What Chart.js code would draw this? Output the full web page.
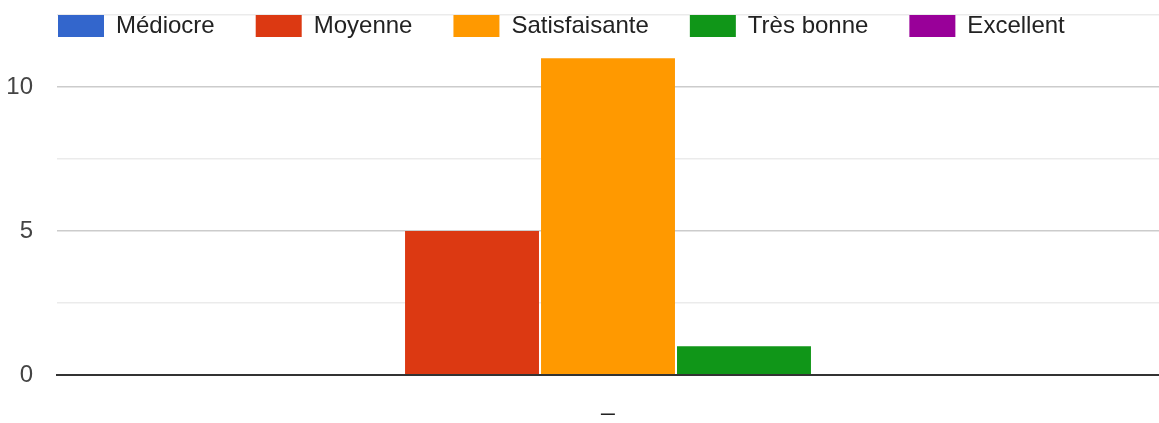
<!DOCTYPE html>
<html>
<head>
<meta charset="utf-8">
<script src="https://cdn.jsdelivr.net/npm/chart.js@4"></script>
<style>
  html, body { margin: 0; padding: 0; background: #ffffff; }
  #wrap { width: 1159px; height: 423px; }
</style>
</head>
<body>
<div id="wrap"><canvas id="c" width="1159" height="423"></canvas></div>
<script>
// ---- data ----
const categories = ['_'];
const seriesNames = ['Médiocre', 'Moyenne', 'Satisfaisante', 'Très bonne', 'Excellent'];
const mediocre = [0];
const moyenne = [5];
const satisfaisante = [11];
const tresBonne = [1];
const excellent = [0];
const yMax = 12.5;
const yStep = 2.5;
const yLabelStep = 5;

// ---- styles ----
const seriesColors = ['#3366cc', '#dc3912', '#ff9900', '#109618', '#990099'];
const FONT = "'Liberation Sans', Arial, sans-serif";
const LEGEND_X = 58, LEGEND_Y = 14;

const seriesValues = [mediocre, moyenne, satisfaisante, tresBonne, excellent];
const datasets = seriesNames.map((name, i) => ({
  label: name,
  data: seriesValues[i],
  backgroundColor: seriesColors[i],
  borderWidth: 0,
  barPercentage: 0.985,
  categoryPercentage: 0.617
}));

// Legend drawn over the top of the plot (as in the reference):
// it takes no layout space, then is placed at the top-left.
const legendOverlay = {
  id: 'legendOverlay',
  beforeLayout(chart) {
    const lg = chart.legend;
    if (lg && !lg.__overlay) {
      const origFit = lg.fit.bind(lg);
      lg.fit = function () { origFit(); this.height = 0; };
      lg.__overlay = true;
    }
  },
  afterLayout(chart) {
    const lg = chart.legend;
    const p = lg.options.labels.padding;
    lg.left = LEGEND_X - p;
    lg.top = LEGEND_Y - p;
    lg.right = chart.width;
    lg.bottom = LEGEND_Y + 34;
    lg.width = lg.right - lg.left;
    lg.height = lg.bottom - lg.top;
  }
};

new Chart(document.getElementById('c'), {
  type: 'bar',
  data: { labels: categories, datasets },
  plugins: [legendOverlay],
  options: {
    responsive: false,
    animation: false,
    devicePixelRatio: 1,
    layout: { padding: { top: 15, left: 0, right: 0, bottom: 0 } },
    plugins: {
      tooltip: { enabled: false },
      legend: {
        position: 'top',
        align: 'start',
        labels: {
          boxWidth: 46,
          boxHeight: 22,
          padding: 41,
          color: '#222222',
          font: { family: FONT, size: 24 }
        }
      }
    },
    scales: {
      x: {
        grid: { display: false, drawTicks: false },
        border: { display: true, color: '#333333', width: 2, z: 1 },
        ticks: { color: '#222222', font: { family: FONT, size: 24 }, padding: 14 },
        afterFit(scale) { scale.height = 48; scale.paddingLeft = 0; scale.paddingRight = 0; }
      },
      y: {
        min: 0,
        max: yMax,
        border: { display: false },
        grid: {
          drawTicks: false,
          color: (ctx) => {
            const v = ctx.tick ? ctx.tick.value : 0;
            if (v === 0) return '#333333';
            return (v % yLabelStep === 0) ? '#cccccc' : '#ebebeb';
          },
          lineWidth: (ctx) => {
            const v = ctx.tick ? ctx.tick.value : 0;
            return v === 0 ? 2 : 1.5;
          }
        },
        ticks: {
          stepSize: yStep,
          padding: 24,
          color: '#444444',
          font: { family: FONT, size: 24 },
          callback: (v) => (v % yLabelStep === 0 ? String(v) : '')
        },
        afterFit(scale) { scale.width = 57; scale.paddingTop = 0; scale.paddingBottom = 0; }
      }
    }
  }
});
</script>
</body>
</html>
